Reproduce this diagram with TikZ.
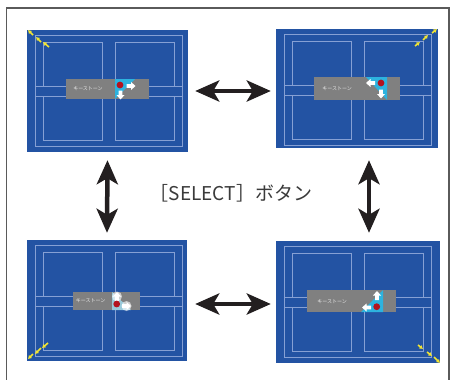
\documentclass[tikz,border=0pt]{standalone}
\usepackage{fontspec}
\newfontfamily\jpfont{Noto Sans CJK JP}
\usetikzlibrary{arrows.meta,positioning}
\definecolor{scrblue}{HTML}{2353A3}
\definecolor{paneline}{HTML}{86A0D4}
\definecolor{ksgray}{HTML}{808080}
\definecolor{kscyan}{HTML}{2DB3DF}
\definecolor{ksred}{HTML}{B3141F}
\definecolor{cornyel}{HTML}{F2E533}
\definecolor{arrowblk}{HTML}{231F20}
\definecolor{framegray}{HTML}{5A5A5A}
\definecolor{seltext}{HTML}{3A3A3A}
\tikzset{
  screen/.style={fill=scrblue,inner sep=0pt},
  pane/.style={draw=paneline,line width=0.6pt},
  ksbox/.style={fill=ksgray,inner sep=0pt},
  kstext/.style={font=\jpfont\fontsize{5}{5}\selectfont,text=white!82!gray,inner sep=0pt},
  switcharrow/.style={draw=arrowblk,line width=4.5pt,
    {Stealth[length=24pt,width=21pt,inset=6pt]}-{Stealth[length=24pt,width=21pt,inset=6pt]}},
  cornerarrow/.style={cornyel,line width=1.6pt,-{Latex[length=3.5pt,width=4.5pt]}},
  panes/.pic={
    \draw[pane] (8,5) rectangle (155,116);
    \draw[pane] (16,12) rectangle (75,56) (88,12) rectangle (147,56)
                (16,66) rectangle (75,110) (88,66) rectangle (147,110);
    \draw[pane] (8,56) -- (155,56) (8,66) -- (155,66);
  },
  warrow/.pic={
    \fill[white] (-4.5,-1.8) -- (0,-1.8) -- (0,-4) -- (4.5,0) -- (0,4) -- (0,1.8) -- (-4.5,1.8) -- cycle;
  }
}
\begin{document}
\begin{tikzpicture}[x=1pt,y=-1pt]
\useasboundingbox (0,0) rectangle (456,380);
\fill[white] (0,0) rectangle (456,380);
% frame
\draw[framegray,line width=1.3pt] (6.5,382) -- (6.5,8) -- (449,8) -- (449,382);

% screens
\node[screen,minimum width=161pt,minimum height=122pt] (s1) at (107.5,91) {};
\node[screen,minimum width=162pt,minimum height=119pt] (s2) at (357,88.5) {};
\node[screen,minimum width=160pt,minimum height=121pt] (s3) at (107,300.5) {};
\node[screen,minimum width=164pt,minimum height=122pt] (s4) at (358,302) {};
\pic at (s1.north west) {panes};
\pic at (s2.north west) {panes};
\pic at (s3.north west) {panes};
\pic at (s4.north west) {panes};

% keystone bars
\node[ksbox,minimum width=83pt,minimum height=20pt] (k1) at (107.5,89) {};
\node[ksbox,minimum width=86pt,minimum height=23pt] (k2) at (357,88.5) {};
\node[ksbox,minimum width=67pt,minimum height=18pt] (k3) at (106.5,301) {};
\node[ksbox,minimum width=89pt,minimum height=22pt] (k4) at (351.5,301) {};
\node[kstext] (k1t) at (88,88.5) {キーストーン};
\node[kstext] (k2t) at (337,88.5) {キーストーン};
\node[kstext] (k3t) at (90.5,301) {キーストーン};
\node[kstext] (k4t) at (332,302) {キーストーン};

% corner marks
\fill[kscyan] (115,79) -- (135,79) -- (115,99) -- cycle;
\fill[ksred] (120,85) circle[radius=3.4];
\pic at (131,86) {warrow};
\pic[rotate=-90] at (120.5,95) {warrow};

\fill[kscyan] (366,77) -- (387,77) -- (387,100) -- cycle;
\fill[ksred] (381,83) circle[radius=3.4];
\pic[rotate=180] at (370.5,83) {warrow};
\pic[rotate=-90] at (381,94) {warrow};

\fill[kscyan!45!white,opacity=0.8] (112,292) -- (112,310) -- (131,310) -- cycle;
\fill[white,opacity=0.6] (117,296.5) circle[radius=5];
\fill[white,opacity=0.6] (126.5,306) circle[radius=5];
\pic[rotate=90] at (117,296.5) {warrow};
\pic at (126.5,306) {warrow};
\fill[ksred] (116.7,304) circle[radius=3.4];

\fill[kscyan] (383,290) -- (383,312) -- (361,312) -- cycle;
\fill[ksred] (376.7,306.7) circle[radius=3.4];
\pic[rotate=90] at (377,295.5) {warrow};
\pic[rotate=180] at (366.5,307.5) {warrow};

% yellow corner arrows
\foreach \ax/\ay/\bx/\by in {33/35/28/30, 41/42/36/37, 49/47/43/42,
    415/46/420/42, 423/40/428/35, 432/33/437/29,
    48/343/42/348, 41/348/35/354, 33/354/28/359,
    418/345/423/349, 427/352/432/356, 434/357/440/363}
  \draw[cornerarrow] (\ax,\ay) -- (\bx,\by);

% switching arrows
\draw[switcharrow] ([xshift=7pt]s1.east) -- ([xshift=-5pt]s1.east -| s2.west);
\draw[switcharrow] ([xshift=8pt,yshift=-3.5pt]s3.east) -- ([xshift=-5pt,yshift=-3.5pt]s3.east -| s4.west);
\draw[switcharrow] ([yshift=-8pt]s1.south) -- ([yshift=7pt]s3.north);
\draw[switcharrow] ([xshift=12pt,yshift=-12pt]s2.south) -- ([xshift=11pt,yshift=8pt]s4.north);

\node[font=\jpfont\fontsize{19}{19}\selectfont,text=seltext] (sel) at (231,193) {［SELECT］ボタン};
\end{tikzpicture}
\end{document}
